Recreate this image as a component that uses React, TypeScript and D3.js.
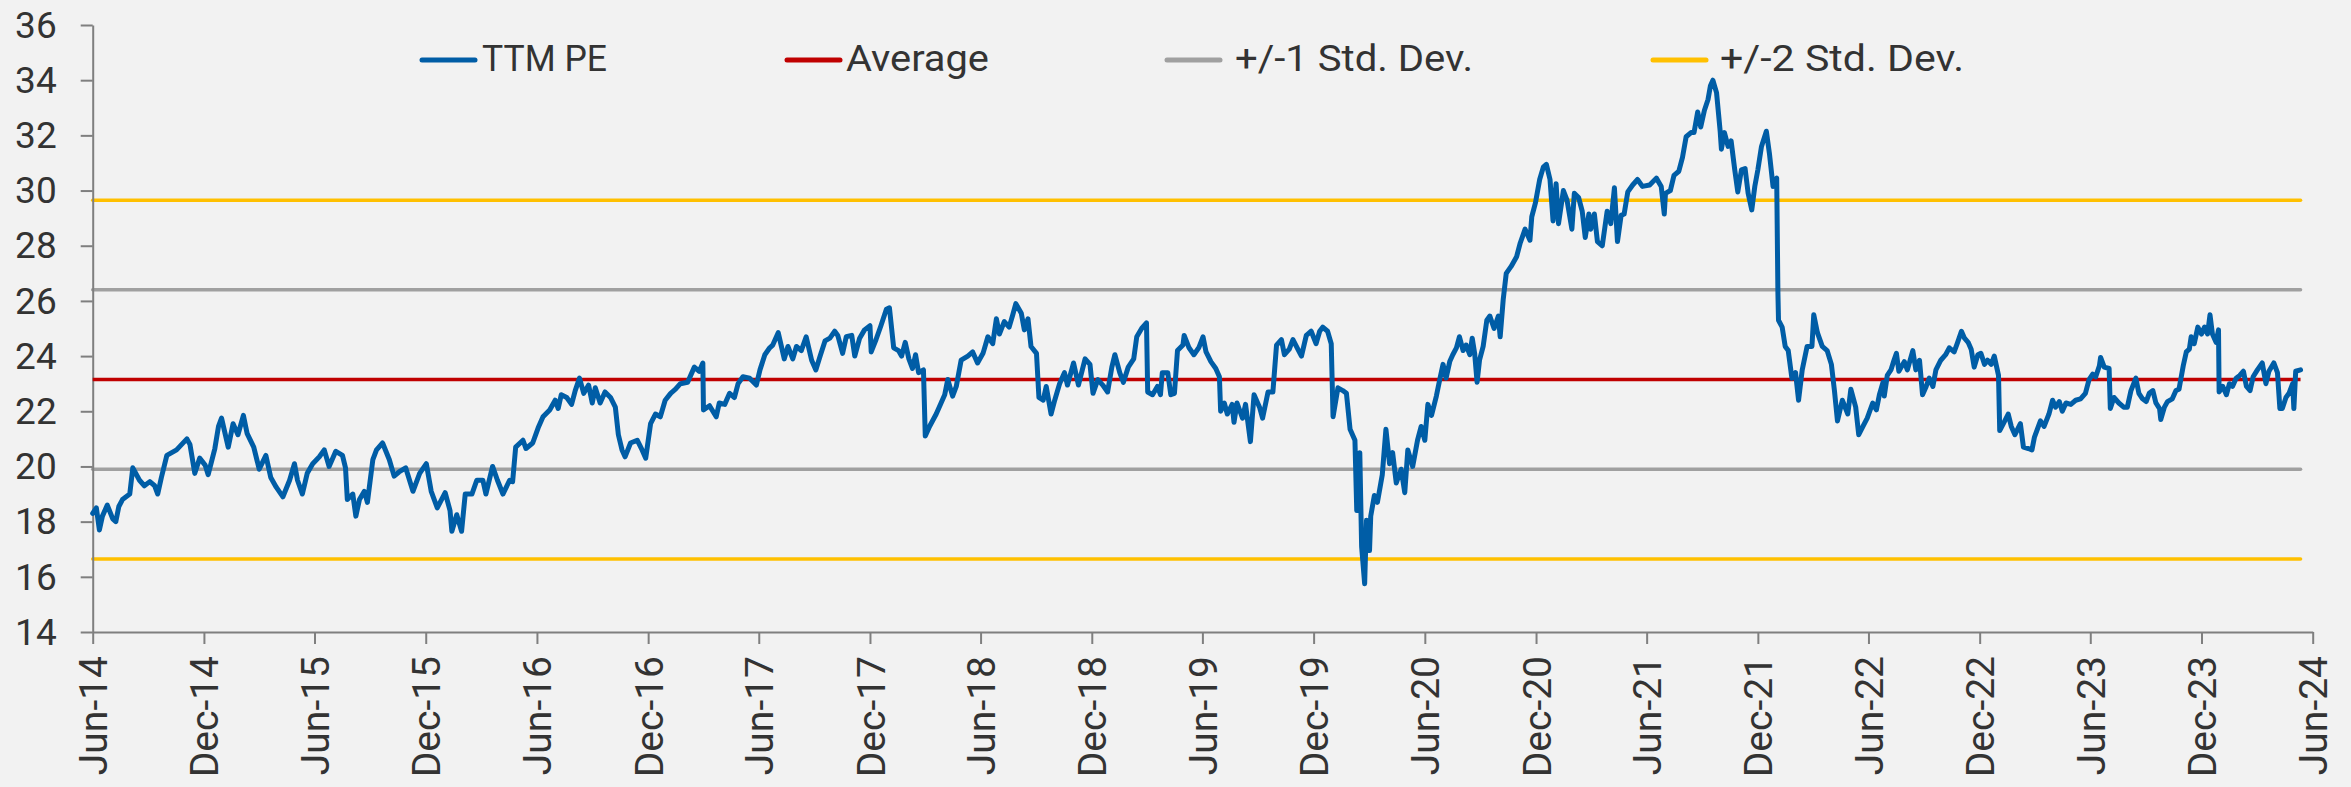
import { useEffect, useRef } from 'react'
import * as d3 from 'd3'

// ── Data (TTM P/E, Jun-14 → May-24) ────────────────────────────────────────
type Pt = [string, number]

const pe2014to2016: Pt[] = [
  ['2014-06-01', 18.3], ['2014-06-07', 18.5], ['2014-06-12', 17.7], ['2014-06-17', 18.2],
  ['2014-06-25', 18.6], ['2014-07-04', 18.1], ['2014-07-09', 18.0], ['2014-07-14', 18.55],
  ['2014-07-20', 18.8], ['2014-08-01', 19.0], ['2014-08-06', 19.95], ['2014-08-17', 19.5],
  ['2014-08-25', 19.3], ['2014-09-03', 19.45], ['2014-09-11', 19.3], ['2014-09-16', 19.0],
  ['2014-09-22', 19.6], ['2014-10-01', 20.4], ['2014-10-17', 20.6], ['2014-11-03', 21.0],
  ['2014-11-08', 20.8], ['2014-11-16', 19.75], ['2014-11-24', 20.3], ['2014-12-03', 20.05],
  ['2014-12-08', 19.7], ['2014-12-19', 20.65], ['2014-12-25', 21.45], ['2014-12-30', 21.75],
  ['2015-01-10', 20.7], ['2015-01-18', 21.55], ['2015-01-26', 21.15], ['2015-02-04', 21.85],
  ['2015-02-10', 21.2], ['2015-02-21', 20.7], ['2015-03-02', 19.9], ['2015-03-13', 20.4],
  ['2015-03-21', 19.6], ['2015-03-30', 19.25], ['2015-04-10', 18.9], ['2015-04-21', 19.5],
  ['2015-04-29', 20.1], ['2015-05-04', 19.5], ['2015-05-12', 19.0], ['2015-05-20', 19.75],
  ['2015-05-29', 20.1], ['2015-06-09', 20.35], ['2015-06-17', 20.6], ['2015-06-25', 20.0],
  ['2015-07-06', 20.55], ['2015-07-17', 20.4], ['2015-07-22', 19.95], ['2015-07-25', 18.8],
  ['2015-08-03', 19.0], ['2015-08-08', 18.2], ['2015-08-14', 18.8], ['2015-08-22', 19.1],
  ['2015-08-27', 18.7], ['2015-09-05', 20.25], ['2015-09-11', 20.6], ['2015-09-21', 20.85],
  ['2015-10-02', 20.25], ['2015-10-10', 19.65], ['2015-10-18', 19.8], ['2015-10-29', 19.95],
  ['2015-11-10', 19.1], ['2015-11-21', 19.75], ['2015-12-02', 20.1], ['2015-12-10', 19.1],
  ['2015-12-20', 18.5], ['2016-01-02', 19.05], ['2016-01-10', 18.4], ['2016-01-13', 17.65],
  ['2016-01-21', 18.25], ['2016-01-29', 17.65], ['2016-02-04', 19.0], ['2016-02-15', 19.0],
  ['2016-02-23', 19.5], ['2016-03-04', 19.5], ['2016-03-09', 19.0], ['2016-03-20', 20.0],
  ['2016-03-28', 19.5], ['2016-04-06', 19.0], ['2016-04-17', 19.5], ['2016-04-22', 19.45],
  ['2016-04-27', 20.7], ['2016-05-09', 20.95], ['2016-05-14', 20.65], ['2016-05-25', 20.85],
  ['2016-06-03', 21.4],
]

const pe2016to2018: Pt[] = [
  ['2016-06-11', 21.8], ['2016-06-22', 22.05], ['2016-07-01', 22.4], ['2016-07-06', 22.1],
  ['2016-07-11', 22.6], ['2016-07-20', 22.5], ['2016-07-28', 22.25], ['2016-08-03', 22.75],
  ['2016-08-10', 23.2], ['2016-08-17', 22.65], ['2016-08-25', 22.95], ['2016-08-31', 22.3],
  ['2016-09-05', 22.85], ['2016-09-13', 22.3], ['2016-09-21', 22.7], ['2016-09-30', 22.5],
  ['2016-10-08', 22.15], ['2016-10-13', 21.15], ['2016-10-19', 20.6], ['2016-10-24', 20.35],
  ['2016-11-02', 20.85], ['2016-11-13', 20.95], ['2016-11-21', 20.6], ['2016-11-27', 20.3],
  ['2016-12-05', 21.55], ['2016-12-13', 21.9], ['2016-12-21', 21.8], ['2016-12-29', 22.4],
  ['2017-01-07', 22.65], ['2017-01-15', 22.8], ['2017-01-23', 23.0], ['2017-02-04', 23.05],
  ['2017-02-15', 23.6], ['2017-02-23', 23.45], ['2017-03-01', 23.75], ['2017-03-02', 22.05],
  ['2017-03-12', 22.2], ['2017-03-23', 21.8], ['2017-03-28', 22.3], ['2017-04-06', 22.25],
  ['2017-04-14', 22.65], ['2017-04-22', 22.5], ['2017-04-28', 23.0], ['2017-05-06', 23.25],
  ['2017-05-17', 23.2], ['2017-05-28', 22.95], ['2017-06-03', 23.5], ['2017-06-11', 24.05],
  ['2017-06-19', 24.3], ['2017-06-24', 24.4], ['2017-07-03', 24.85], ['2017-07-13', 23.9],
  ['2017-07-19', 24.35], ['2017-07-27', 23.9], ['2017-08-02', 24.35], ['2017-08-10', 24.2],
  ['2017-08-18', 24.7], ['2017-08-27', 23.85], ['2017-09-03', 23.5], ['2017-09-10', 24.0],
  ['2017-09-18', 24.55], ['2017-09-26', 24.65], ['2017-10-04', 24.9], ['2017-10-09', 24.75],
  ['2017-10-17', 24.1], ['2017-10-23', 24.7], ['2017-11-01', 24.75], ['2017-11-06', 24.0],
  ['2017-11-14', 24.65], ['2017-11-22', 24.95], ['2017-12-01', 25.1], ['2017-12-03', 24.15],
  ['2017-12-11', 24.6], ['2017-12-19', 25.1], ['2017-12-28', 25.7], ['2018-01-02', 25.75],
  ['2018-01-09', 24.3], ['2018-01-17', 24.2], ['2018-01-22', 24.0], ['2018-01-28', 24.5],
  ['2018-02-03', 23.9], ['2018-02-09', 23.55], ['2018-02-14', 24.05], ['2018-02-19', 23.4],
  ['2018-02-27', 23.5], ['2018-03-02', 21.1], ['2018-03-09', 21.45], ['2018-03-20', 21.9],
  ['2018-03-28', 22.3], ['2018-04-03', 22.6], ['2018-04-08', 23.15], ['2018-04-16', 22.55],
  ['2018-04-22', 22.9], ['2018-04-30', 23.85], ['2018-05-11', 24.0], ['2018-05-19', 24.15],
  ['2018-05-27', 23.75], ['2018-06-05', 24.1], ['2018-06-13', 24.7],
]

const pe2018to2020: Pt[] = [
  ['2018-06-21', 24.45], ['2018-06-27', 25.35], ['2018-07-02', 24.8], ['2018-07-10', 25.25],
  ['2018-07-18', 25.05], ['2018-07-24', 25.5], ['2018-07-29', 25.9], ['2018-08-07', 25.55],
  ['2018-08-12', 24.95], ['2018-08-18', 25.35], ['2018-08-23', 24.35], ['2018-09-01', 24.1],
  ['2018-09-05', 22.5], ['2018-09-12', 22.4], ['2018-09-17', 22.9], ['2018-09-25', 21.9],
  ['2018-10-01', 22.4], ['2018-10-09', 23.0], ['2018-10-17', 23.4], ['2018-10-22', 22.95],
  ['2018-11-01', 23.75], ['2018-11-09', 22.95], ['2018-11-20', 23.9], ['2018-11-28', 23.7],
  ['2018-12-03', 22.65], ['2018-12-11', 23.15], ['2018-12-19', 22.95], ['2018-12-27', 22.7],
  ['2019-01-03', 23.6], ['2019-01-08', 24.05], ['2019-01-16', 23.4], ['2019-01-22', 23.05],
  ['2019-01-30', 23.6], ['2019-02-08', 23.9], ['2019-02-13', 24.7], ['2019-02-21', 25.0],
  ['2019-03-01', 25.2], ['2019-03-03', 22.7], ['2019-03-11', 22.6], ['2019-03-19', 22.9],
  ['2019-03-24', 22.6], ['2019-03-27', 23.4], ['2019-04-05', 23.4], ['2019-04-10', 22.6],
  ['2019-04-16', 22.65], ['2019-04-21', 24.2], ['2019-04-30', 24.4], ['2019-05-02', 24.75],
  ['2019-05-10', 24.3], ['2019-05-18', 24.05], ['2019-05-26', 24.3], ['2019-06-02', 24.7],
  ['2019-06-07', 24.15], ['2019-06-15', 23.8], ['2019-06-23', 23.55], ['2019-06-29', 23.25],
  ['2019-07-01', 22.0], ['2019-07-07', 22.3], ['2019-07-12', 21.9], ['2019-07-20', 22.25],
  ['2019-07-23', 21.6], ['2019-07-28', 22.3], ['2019-08-06', 21.75], ['2019-08-11', 22.25],
  ['2019-08-19', 20.9], ['2019-08-25', 22.6], ['2019-09-03', 22.15], ['2019-09-08', 21.75],
  ['2019-09-17', 22.7], ['2019-09-25', 22.7], ['2019-10-01', 24.4], ['2019-10-09', 24.6],
  ['2019-10-14', 24.05], ['2019-10-22', 24.25], ['2019-10-28', 24.6], ['2019-11-05', 24.25],
  ['2019-11-11', 24.0], ['2019-11-19', 24.75], ['2019-11-27', 24.9], ['2019-12-05', 24.45],
  ['2019-12-11', 24.9], ['2019-12-16', 25.05], ['2019-12-24', 24.9], ['2019-12-30', 24.45],
  ['2020-01-02', 21.8], ['2020-01-10', 22.85], ['2020-01-18', 22.75], ['2020-01-24', 22.65],
  ['2020-01-30', 21.35], ['2020-02-07', 20.95], ['2020-02-10', 18.4], ['2020-02-15', 20.5],
  ['2020-02-18', 17.1], ['2020-02-23', 15.75], ['2020-02-26', 18.05], ['2020-03-02', 16.95],
  ['2020-03-04', 18.2], ['2020-03-10', 18.95], ['2020-03-15', 18.7], ['2020-03-23', 19.7],
  ['2020-03-29', 21.35], ['2020-04-04', 20.1], ['2020-04-09', 20.5], ['2020-04-15', 19.4],
  ['2020-04-23', 19.9], ['2020-04-29', 19.05], ['2020-05-04', 20.6], ['2020-05-12', 20.0],
  ['2020-05-20', 20.95], ['2020-05-26', 21.45], ['2020-06-01', 20.95], ['2020-06-06', 22.25],
]

const pe2020to2022: Pt[] = [
  ['2020-06-12', 21.85], ['2020-06-20', 22.55], ['2020-06-26', 23.2], ['2020-07-01', 23.7],
  ['2020-07-06', 23.2], ['2020-07-12', 23.8], ['2020-07-17', 24.05], ['2020-07-23', 24.3],
  ['2020-07-28', 24.7], ['2020-08-03', 24.2], ['2020-08-08', 24.4], ['2020-08-14', 24.05],
  ['2020-08-18', 24.65], ['2020-08-22', 24.1], ['2020-08-26', 23.05], ['2020-08-30', 23.85],
  ['2020-09-05', 24.35], ['2020-09-11', 25.3], ['2020-09-16', 25.45], ['2020-09-23', 25.0],
  ['2020-09-30', 25.45], ['2020-10-03', 24.7], ['2020-10-08', 26.05], ['2020-10-13', 27.0],
  ['2020-10-21', 27.25], ['2020-10-30', 27.6], ['2020-11-05', 28.1], ['2020-11-13', 28.6],
  ['2020-11-21', 28.2], ['2020-11-24', 29.05], ['2020-11-30', 29.55], ['2020-12-07', 30.4],
  ['2020-12-13', 30.85], ['2020-12-18', 30.95], ['2020-12-24', 30.4], ['2020-12-29', 28.9],
  ['2021-01-03', 30.25], ['2021-01-07', 28.8], ['2021-01-15', 30.0], ['2021-01-21', 29.65],
  ['2021-01-29', 28.6], ['2021-02-02', 29.9], ['2021-02-09', 29.75], ['2021-02-15', 29.25],
  ['2021-02-20', 28.3], ['2021-02-26', 29.15], ['2021-03-01', 28.6], ['2021-03-07', 29.15],
  ['2021-03-12', 28.15], ['2021-03-20', 28.0], ['2021-03-28', 29.25], ['2021-04-03', 28.8],
  ['2021-04-09', 30.1], ['2021-04-14', 28.15], ['2021-04-20', 29.1], ['2021-04-25', 29.15],
  ['2021-05-01', 29.95], ['2021-05-09', 30.2], ['2021-05-17', 30.4], ['2021-05-25', 30.15],
  ['2021-06-06', 30.2], ['2021-06-17', 30.45], ['2021-06-25', 30.15], ['2021-06-30', 29.15],
  ['2021-07-02', 29.9], ['2021-07-10', 30.0], ['2021-07-16', 30.55], ['2021-07-24', 30.7],
  ['2021-07-30', 31.2], ['2021-08-05', 31.95], ['2021-08-13', 32.1], ['2021-08-18', 32.1],
  ['2021-08-24', 32.85], ['2021-08-29', 32.3], ['2021-09-04', 32.9], ['2021-09-10', 33.3],
  ['2021-09-14', 33.8], ['2021-09-18', 34.0], ['2021-09-24', 33.55], ['2021-09-30', 32.15],
  ['2021-10-02', 31.5], ['2021-10-07', 32.1], ['2021-10-13', 31.6], ['2021-10-18', 31.8],
  ['2021-10-24', 30.75], ['2021-10-29', 29.95], ['2021-11-04', 30.75], ['2021-11-10', 30.8],
  ['2021-11-15', 29.9], ['2021-11-21', 29.3], ['2021-11-26', 30.15], ['2021-12-01', 30.75],
  ['2021-12-07', 31.6], ['2021-12-15', 32.15], ['2021-12-20', 31.35], ['2021-12-26', 30.15],
  ['2022-01-01', 30.45], ['2022-01-03', 26.3], ['2022-01-04', 25.3], ['2022-01-10', 25.05],
  ['2022-01-15', 24.35], ['2022-01-20', 24.2], ['2022-01-26', 23.2], ['2022-02-01', 23.4],
  ['2022-02-06', 22.4], ['2022-02-12', 23.5], ['2022-02-20', 24.35], ['2022-02-28', 24.35],
  ['2022-03-03', 25.5], ['2022-03-09', 24.85], ['2022-03-17', 24.35], ['2022-03-25', 24.2],
  ['2022-04-01', 23.7], ['2022-04-06', 22.75], ['2022-04-11', 21.65], ['2022-04-19', 22.4],
  ['2022-04-28', 21.9], ['2022-05-03', 22.8], ['2022-05-11', 22.15], ['2022-05-16', 21.15],
  ['2022-05-24', 21.5], ['2022-05-30', 21.75], ['2022-06-08', 22.3],
]

const pe2022to2024: Pt[] = [
  ['2022-06-14', 22.05], ['2022-06-19', 22.6], ['2022-06-25', 23.05], ['2022-06-27', 22.55],
  ['2022-07-02', 23.3], ['2022-07-08', 23.5], ['2022-07-13', 23.85], ['2022-07-17', 24.1],
  ['2022-07-21', 23.45], ['2022-07-30', 23.8], ['2022-08-04', 23.5], ['2022-08-13', 24.2],
  ['2022-08-18', 23.5], ['2022-08-24', 23.85], ['2022-08-29', 22.6], ['2022-09-04', 22.9],
  ['2022-09-09', 23.2], ['2022-09-15', 22.9], ['2022-09-20', 23.5], ['2022-09-28', 23.85],
  ['2022-10-06', 24.05], ['2022-10-12', 24.3], ['2022-10-20', 24.15], ['2022-10-25', 24.45],
  ['2022-11-01', 24.9], ['2022-11-06', 24.65], ['2022-11-12', 24.5], ['2022-11-17', 24.25],
  ['2022-11-22', 23.6], ['2022-11-28', 24.05], ['2022-12-03', 24.1], ['2022-12-09', 23.7],
  ['2022-12-14', 23.85], ['2022-12-20', 23.7], ['2022-12-25', 24.0], ['2023-01-01', 23.3],
  ['2023-01-03', 21.3], ['2023-01-09', 21.55], ['2023-01-17', 21.9], ['2023-01-22', 21.45],
  ['2023-01-28', 21.15], ['2023-02-06', 21.55], ['2023-02-11', 20.7], ['2023-02-19', 20.65],
  ['2023-02-25', 20.6], ['2023-03-01', 21.05], ['2023-03-06', 21.35], ['2023-03-11', 21.65],
  ['2023-03-17', 21.45], ['2023-03-25', 21.9], ['2023-03-31', 22.4], ['2023-04-05', 22.15],
  ['2023-04-11', 22.35], ['2023-04-16', 22.0], ['2023-04-22', 22.3], ['2023-04-30', 22.25],
  ['2023-05-08', 22.4], ['2023-05-16', 22.45], ['2023-05-24', 22.65], ['2023-05-30', 23.15],
  ['2023-06-05', 23.35], ['2023-06-10', 23.25], ['2023-06-16', 23.65], ['2023-06-18', 23.95],
  ['2023-06-24', 23.6], ['2023-07-02', 23.55], ['2023-07-04', 22.1], ['2023-07-10', 22.5],
  ['2023-07-18', 22.3], ['2023-07-26', 22.15], ['2023-08-01', 22.15], ['2023-08-07', 22.75],
  ['2023-08-15', 23.2], ['2023-08-20', 22.65], ['2023-08-26', 22.45], ['2023-09-01', 22.35],
  ['2023-09-06', 22.65], ['2023-09-12', 22.75], ['2023-09-17', 22.3], ['2023-09-23', 22.1],
  ['2023-09-25', 21.7], ['2023-10-01', 22.15], ['2023-10-06', 22.35], ['2023-10-14', 22.45],
  ['2023-10-20', 22.75], ['2023-10-25', 22.8], ['2023-11-01', 23.65], ['2023-11-06', 24.15],
  ['2023-11-11', 24.25], ['2023-11-14', 24.7], ['2023-11-19', 24.45], ['2023-11-25', 25.05],
  ['2023-12-01', 24.8], ['2023-12-06', 25.05], ['2023-12-11', 24.8], ['2023-12-15', 25.5],
  ['2023-12-19', 24.8], ['2023-12-25', 24.5], ['2023-12-29', 24.95], ['2023-12-30', 22.7],
  ['2024-01-05', 22.9], ['2024-01-11', 22.6], ['2024-01-16', 23.0], ['2024-01-21', 22.9],
  ['2024-01-27', 23.2], ['2024-02-02', 23.3], ['2024-02-08', 23.45], ['2024-02-13', 22.9],
  ['2024-02-19', 22.75], ['2024-02-24', 23.25], ['2024-03-02', 23.5], ['2024-03-10', 23.75],
  ['2024-03-16', 23.0], ['2024-03-21', 23.45], ['2024-03-29', 23.75], ['2024-04-04', 23.4],
  ['2024-04-08', 22.1], ['2024-04-12', 22.1], ['2024-04-18', 22.5], ['2024-04-23', 22.65],
  ['2024-04-29', 23.0], ['2024-05-01', 22.1], ['2024-05-04', 23.45], ['2024-05-12', 23.5],
]

const AVERAGE = 23.15
const STD_DEV = 3.25

const yTicks = [14, 16, 18, 20, 22, 24, 26, 28, 30, 32, 34, 36]
const xTickDates = [
  '2014-06-01', '2014-12-01', '2015-06-01', '2015-12-01', '2016-06-01', '2016-12-01',
  '2017-06-01', '2017-12-01', '2018-06-01', '2018-12-01', '2019-06-01', '2019-12-01',
  '2020-06-01', '2020-12-01', '2021-06-01', '2021-12-01', '2022-06-01', '2022-12-01',
  '2023-06-01', '2023-12-01', '2024-06-01',
]

const legendLabels = ['TTM PE', 'Average', '+/-1 Std. Dev.', '+/-2 Std. Dev.']
const legendColors = ['#005DA6', '#C00000', '#A0A0A0', '#FFC000']

// ── layout ────────────────────────────────────────────────────────────────────
const W = 2351
const H = 787
const PLOT = { left: 92.7, right: 2312.7, top: 25, bottom: 632 }
const FONT = 'Roboto, "Open Sans", sans-serif'
const TEXT = '#333333'
const AXIS = '#7F7F7F'
const LEGEND_LINE_X = [422, 787, 1167, 1653]
const LEGEND_TEXT_X = [482, 846, 1235, 1720]
const LEGEND_LEN = [125, 143, 238, 244]

export default function App() {
  const svgRef = useRef<SVGSVGElement>(null)

  useEffect(() => {
    if (!svgRef.current) return
    const parse = d3.timeParse('%Y-%m-%d')
    const series = [...pe2014to2016, ...pe2016to2018, ...pe2018to2020, ...pe2020to2022, ...pe2022to2024]
      .map(([d, v]) => ({ date: parse(d) as Date, value: v }))
    const ticks = xTickDates.map(d => parse(d) as Date)

    const svg = d3.select(svgRef.current)
    svg.selectAll('*').remove()

    svg.append('rect').attr('width', W).attr('height', H).attr('fill', '#F2F2F2')

    const x = d3.scaleTime()
      .domain([ticks[0], ticks[ticks.length - 1]])
      .range([PLOT.left, PLOT.right])
    const y = d3.scaleLinear().domain([14, 36]).range([PLOT.bottom, PLOT.top])

    // Bandas: ±1σ, ±2σ — sólo sobre el rango de fechas con datos
    const x0 = x(series[0].date)
    const x1 = x(series[series.length - 1].date)
    const refs = [
      { v: AVERAGE + 2 * STD_DEV, c: legendColors[3] },
      { v: AVERAGE - 2 * STD_DEV, c: legendColors[3] },
      { v: AVERAGE + STD_DEV, c: legendColors[2] },
      { v: AVERAGE - STD_DEV, c: legendColors[2] },
    ]
    refs.forEach(r => {
      svg.append('line')
        .attr('x1', x0).attr('x2', x1).attr('y1', y(r.v)).attr('y2', y(r.v))
        .attr('stroke', r.c).attr('stroke-width', 3.5).attr('stroke-linecap', 'round')
    })

    // X axis
    svg.append('g').attr('transform', `translate(0,${PLOT.bottom})`)
      .call(d3.axisBottom(x).tickValues(ticks).tickSize(12).tickSizeOuter(0)
        .tickFormat(d => d3.timeFormat('%b-%y')(d as Date)))
      .call(ax => ax.select('.domain').attr('stroke', AXIS).attr('stroke-width', 2))
      .call(ax => ax.selectAll('.tick line').attr('stroke', AXIS).attr('stroke-width', 2))
      .call(ax => ax.selectAll('text')
        .attr('transform', 'rotate(-90)')
        .attr('x', -24).attr('y', 0).attr('dy', '0.36em')
        .attr('text-anchor', 'end')
        .attr('fill', TEXT).attr('font-size', 39).attr('font-family', FONT))

    // Y axis
    svg.append('g').attr('transform', `translate(${PLOT.left},0)`)
      .call(d3.axisLeft(y).tickValues(yTicks).tickSize(12).tickSizeOuter(0).tickPadding(24))
      .call(ax => ax.select('.domain').attr('stroke', AXIS).attr('stroke-width', 2))
      .call(ax => ax.selectAll('.tick line').attr('stroke', AXIS).attr('stroke-width', 2))
      .call(ax => ax.selectAll('text')
        .attr('dy', '0.33em')
        .attr('fill', TEXT).attr('font-size', 37).attr('font-family', FONT))

    // Average
    svg.append('line')
      .attr('x1', x0).attr('x2', x1).attr('y1', y(AVERAGE)).attr('y2', y(AVERAGE))
      .attr('stroke', legendColors[1]).attr('stroke-width', 3.5)

    // TTM PE
    const line = d3.line<{ date: Date; value: number }>()
      .x(d => x(d.date))
      .y(d => y(d.value))
    svg.append('path')
      .datum(series)
      .attr('d', line)
      .attr('fill', 'none')
      .attr('stroke', legendColors[0])
      .attr('stroke-width', 5)
      .attr('stroke-linejoin', 'round')
      .attr('stroke-linecap', 'round')

    // Legend
    legendLabels.forEach((label, i) => {
      svg.append('line')
        .attr('x1', LEGEND_LINE_X[i]).attr('x2', LEGEND_LINE_X[i] + 53)
        .attr('y1', 60).attr('y2', 60)
        .attr('stroke', legendColors[i]).attr('stroke-width', 5)
        .attr('stroke-linecap', 'round')
      svg.append('text')
        .attr('x', LEGEND_TEXT_X[i]).attr('y', 71)
        .attr('fill', TEXT).attr('font-size', 37).attr('font-family', FONT)
        .attr('textLength', LEGEND_LEN[i]).attr('lengthAdjust', 'spacingAndGlyphs')
        .text(label)
    })
  }, [])

  return (
    <svg
      ref={svgRef}
      width={W}
      height={H}
      style={{ position: 'absolute', left: 0, top: 0, display: 'block' }}
    />
  )
}
